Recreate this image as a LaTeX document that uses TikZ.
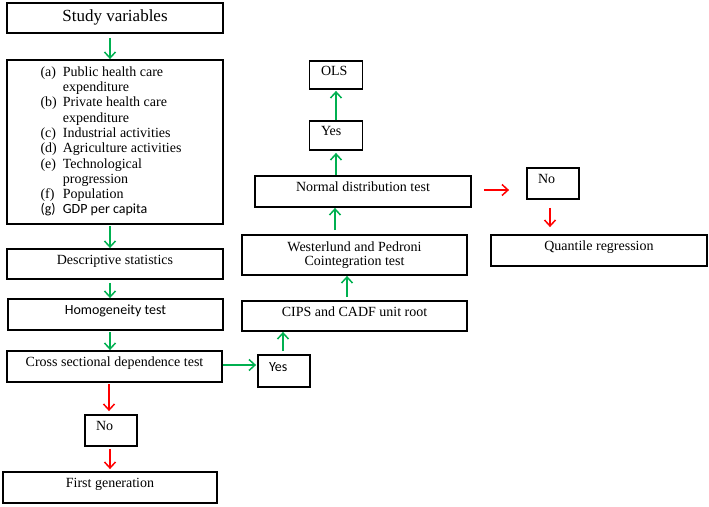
\documentclass[tikz,border=0pt]{standalone}
\usepackage{fontspec}
\setmainfont{Liberation Serif}
\newfontfamily\calib{Carlito}
\usetikzlibrary{arrows.meta}
\definecolor{fgreen}{RGB}{0,176,80}
\definecolor{fred}{RGB}{255,0,0}
\begin{document}
\begin{tikzpicture}[x=1pt,y=-1pt,
  box/.style={draw=black,line width=1.8pt,rectangle,inner sep=3pt,
    font=\fontsize{14}{15.3}\selectfont,text height=9pt,text depth=9pt,align=center},
  smallbox/.style={box,inner xsep=11pt,text width=30pt,align=left,minimum width=52pt},
  garrow/.style={draw=fgreen,line width=1.5pt,-{Straight Barb[length=6pt,width=11pt]}},
  rarrow/.style={draw=fred,line width=1.5pt,-{Straight Barb[length=6pt,width=11pt]}}]
\useasboundingbox (0,0) rectangle (709,506);
% left column
\node[box,minimum width=216pt,minimum height=30pt,font=\fontsize{17}{19}\selectfont,text height=12pt,text depth=6pt] (sv) at (115,18) {Study variables};
\node[box,minimum width=216pt,minimum height=164pt,text height=,text depth=,align=left] (vars) at (115,142) {%
\begin{tabular}{@{}l@{\hspace{6pt}}l@{}}
(a) & Public health care\\
    & expenditure\\
(b) & Private health care\\
    & expenditure\\
(c) & Industrial activities\\
(d) & Agriculture activities\\
(e) & Technological\\
    & progression\\
(f) & Population\\
{\calib (g)} & {\calib GDP per capita}
\end{tabular}\hspace*{8pt}};
\node[box,minimum width=216pt,minimum height=30pt] (desc) at (115,264) {Descriptive statistics};
\node[box,minimum width=215pt,minimum height=31pt] (homo) at (115.5,314.5) {\calib Homogeneity test};
\node[box,minimum width=215pt,minimum height=31pt] (cross) at (114.5,366.5) {Cross sectional dependence test};
\node[smallbox,minimum height=32pt] (yes1) at (284,371) {\calib Yes};
\node[smallbox,minimum height=31pt] (no1) at (111,430.5) {No};
\node[box,minimum width=214pt,minimum height=31pt] (first) at (110,487.5) {First generation};
% right column
\node[box,minimum width=225pt,minimum height=30pt] (cips) at (354.5,316) {CIPS and CADF unit root};
\node[box,minimum width=225pt,minimum height=40pt,text height=,text depth=,font=\fontsize{14}{14}\selectfont] (west) at (354.5,255) {Westerlund and Pedroni\\Cointegration test};
\node[box,minimum width=216pt,minimum height=31pt] (normal) at (363,191.5) {Normal distribution test};
\node[smallbox,minimum width=53pt,minimum height=29pt] (yes2) at (336,135.5) {Yes};
\node[smallbox,minimum width=53pt,minimum height=28pt] (ols) at (336,75) {OLS};
\node[smallbox,minimum height=31pt] (no2) at (553,183.5) {No};
\node[box,minimum width=216pt,minimum height=31pt] (quant) at (599,250.5) {Quantile regression};
% connectors
\draw[garrow,shorten <=4pt] ([xshift=-5pt]sv.south) -- ([xshift=-5pt]sv.south |- vars.north);
\draw[garrow,shorten <=1pt] ([xshift=-5pt]vars.south) -- ([xshift=-5pt]vars.south |- desc.north);
\draw[garrow,shorten <=3pt] ([xshift=-5pt]desc.south) -- ([xshift=-5pt]desc.south |- homo.north);
\draw[garrow,shorten <=1pt] ([xshift=-5.5pt]homo.south) -- ([xshift=-5.5pt]homo.south |- cross.north);
\draw[rarrow,shorten <=1pt,shorten >=3pt] ([xshift=-5.5pt]cross.south) -- ([xshift=-5.5pt]cross.south |- no1.north);
\draw[rarrow,shorten <=2pt,shorten >=2pt] ([xshift=-1pt]no1.south) -- ([xshift=-1pt]no1.south |- first.north);
\draw[garrow,shorten >=1pt] ([yshift=1.5pt]cross.east) -- ([yshift=1.5pt]cross.east -| yes1.west);
\draw[garrow,shorten <=3pt] ([xshift=-1pt]yes1.north) -- ([xshift=-1pt]yes1.north |- cips.south);
\draw[garrow,shorten <=3pt] ([xshift=-7.5pt]cips.north) -- ([xshift=-7.5pt]cips.north |- west.south);
\draw[garrow,shorten <=4pt] ([xshift=-19.5pt]west.north) -- ([xshift=-19.5pt]west.north |- normal.south);
\draw[garrow,shorten >=2pt] ([xshift=-27pt]normal.north) -- ([xshift=-27pt]normal.north |- yes2.south);
\draw[garrow,shorten >=1pt] (yes2.north) -- (ols.south);
\draw[rarrow,shorten <=12pt,shorten >=17pt] ([yshift=1.5pt]normal.east) -- ([yshift=1.5pt]normal.east -| no2.west);
\draw[rarrow,shorten <=8pt,shorten >=7pt] ([xshift=-3pt]no2.south) -- ([xshift=-3pt]no2.south |- quant.north);
\end{tikzpicture}
\end{document}
